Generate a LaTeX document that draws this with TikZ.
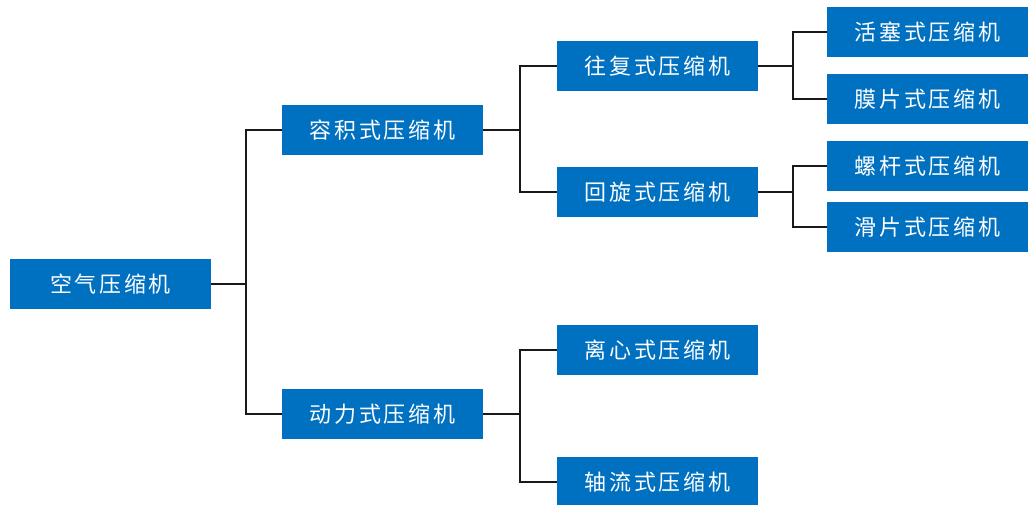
\documentclass[tikz,border=0pt]{standalone}
\usepackage{fontspec}
\newfontfamily\cjk{Noto Sans CJK SC}[LetterSpace=12]
\definecolor{boxblue}{HTML}{0070C0}
\begin{document}
\begin{tikzpicture}[x=1pt,y=-1pt,
  cbox/.style={fill=boxblue,text=white,minimum width=201pt,minimum height=50pt,
    inner sep=0pt,font=\cjk\fontsize{22pt}{24pt}\selectfont},
  link/.style={draw=black!90,line width=1.4pt}]
\clip (0,0) rectangle (1034,504);
% level 0
\node[cbox] (root) at (110.5,284) {空气压缩机};
% level 1
\node[cbox] (vol) at (382.5,130) {容积式压缩机};
\node[cbox] (dyn) at (382.5,414) {动力式压缩机};
% level 2
\node[cbox] (recip) at (657.5,66) {往复式压缩机};
\node[cbox] (rot)   at (657.5,192) {回旋式压缩机};
\node[cbox] (cent)  at (657.5,350) {离心式压缩机};
\node[cbox] (axial) at (657.5,482) {轴流式压缩机};
% level 3
\node[cbox] (piston) at (927.5,32) {活塞式压缩机};
\node[cbox] (diaph)  at (927.5,99) {膜片式压缩机};
\node[cbox] (screw)  at (927.5,166) {螺杆式压缩机};
\node[cbox] (vane)   at (927.5,227) {滑片式压缩机};
% junctions
\coordinate (j0) at (246,284);
\coordinate (j1) at (520,130);
\coordinate (j2) at (520,414);
\coordinate (j3) at (793,66);
\coordinate (j4) at (793,192);
% connectors
\draw[link] (root.east) -- (j0) |- (vol.west);
\draw[link] (j0) |- (dyn.west);
\draw[link] (vol.east) -- (j1) |- (recip.west);
\draw[link] (j1) |- (rot.west);
\draw[link] (dyn.east) -- (j2) |- (cent.west);
\draw[link] (j2) |- (axial.west);
\draw[link] (recip.east) -- (j3) |- (piston.west);
\draw[link] (j3) |- (diaph.west);
\draw[link] (rot.east) -- (j4) |- (screw.west);
\draw[link] (j4) |- (vane.west);
\end{tikzpicture}
\end{document}
